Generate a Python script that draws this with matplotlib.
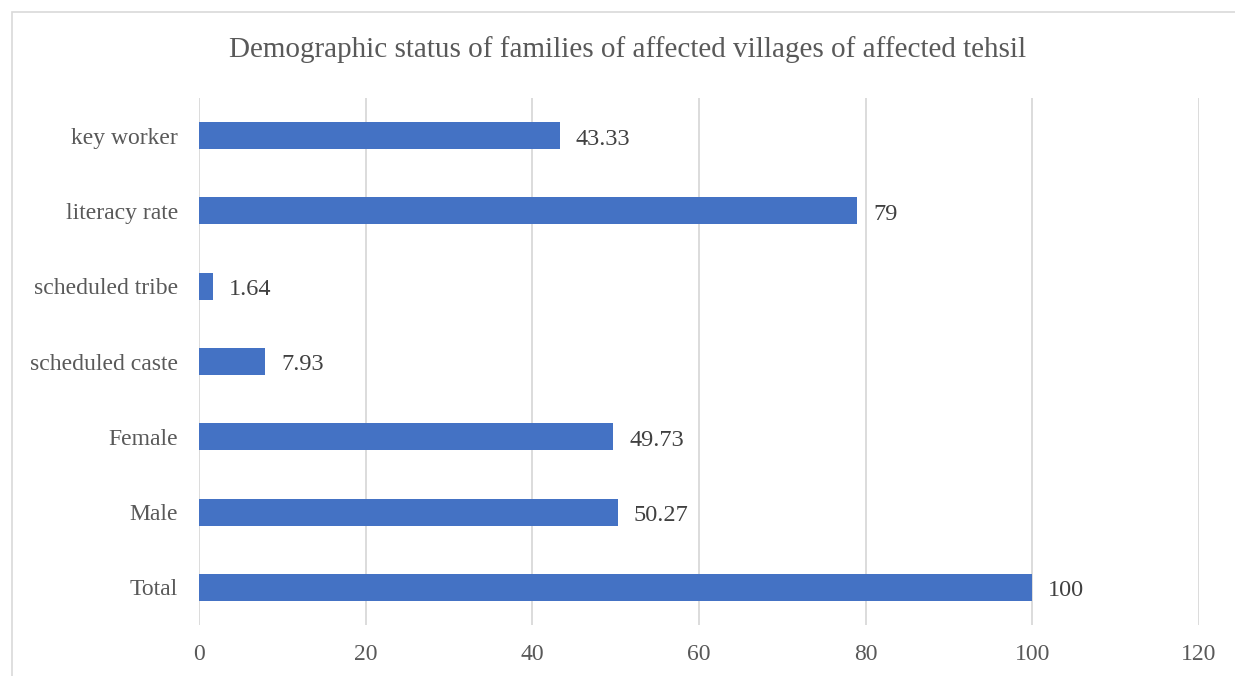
import matplotlib
matplotlib.use("Agg")
import matplotlib.pyplot as plt
from matplotlib.patches import Rectangle

categories = ["Total", "Male", "Female", "scheduled caste", "scheduled tribe",
              "literacy rate", "key worker"]
values = [100, 50.27, 49.73, 7.93, 1.64, 79, 43.33]
value_labels = ["100", "50.27", "49.73", "7.93", "1.64", "79", "43.33"]
x_ticks = [0, 20, 40, 60, 80, 100, 120]

plt.rcParams["font.family"] = ["Liberation Serif", "DejaVu Serif"]

W, H = 1235, 676
fig = plt.figure(figsize=(W / 100, H / 100), dpi=100)
fig.patch.set_facecolor("white")

# outer chart frame (extends past right and bottom edges)
fig.patches.append(Rectangle((11.5 / W, -0.1), 1.2, (H - 11.5) / H + 0.1,
                             transform=fig.transFigure, fill=False,
                             edgecolor="#D9D9D9", linewidth=1.2, zorder=0))

ax = fig.add_axes([199 / W, 51 / H, 1000 / W, 527 / H])
y = range(len(categories))
ax.barh(y, values, height=0.36, color="#4472C4", zorder=3)

ax.set_xlim(0, 120)
ax.set_ylim(-0.5, len(categories) - 0.5)
ax.set_xticks(x_ticks)
ax.set_xticklabels([str(t) for t in x_ticks])
ax.set_yticks(list(y))
ax.set_yticklabels(categories)

for yi, v, lab in zip(y, values, value_labels):
    ax.text(v + 1.9, yi - 0.045, lab, va="center", ha="left", fontsize=17.5,
            color="#404040", zorder=4)

ax.grid(axis="x", color="#D9D9D9", linewidth=1.3, zorder=0)
ax.set_axisbelow(True)
for s in ax.spines.values():
    s.set_visible(False)
ax.tick_params(axis="both", length=0, labelsize=17, colors="#595959")
ax.tick_params(axis="y", pad=15)
ax.tick_params(axis="x", pad=13.5)

fig.text(628 / W, 1 - 50 / H,
         "Demographic status of families of affected villages of affected tehsil",
         ha="center", va="center", fontsize=21, color="#595959")

fig.savefig("out.png", dpi=100, facecolor="white")
